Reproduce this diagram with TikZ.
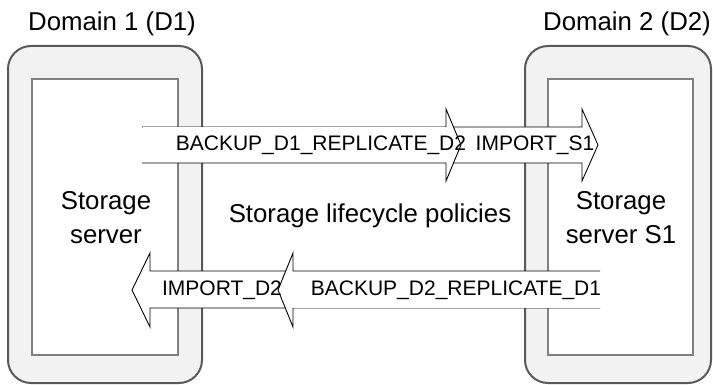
\documentclass[tikz,border=0pt]{standalone}
\usepackage{fontspec}
\setmainfont{Liberation Sans}
\begin{document}
\begin{tikzpicture}[x=1pt,y=-1pt,
  domainbox/.style={draw=black!65,line width=2pt,fill=black!5,rounded corners=23pt},
  serverbox/.style={draw=black!50,line width=2pt,fill=white},
  bigarrow/.style={draw=black,line width=0.9pt,fill=white,line join=miter},
  bigtext/.style={font=\fontsize{25.8}{34}\selectfont,align=center,inner sep=0pt},
  arrowtext/.style={font=\fontsize{21}{24}\selectfont,inner sep=0pt}]
\useasboundingbox (0,0) rectangle (713,385);
% domains
\draw[domainbox] (8,46) rectangle (202,383);
\draw[domainbox] (525,46) rectangle (711,383);
% servers
\draw[serverbox] (32,79) rectangle (178,355);
\draw[serverbox] (548,79) rectangle (693,355);
% top arrows (IMPORT_S1 first, then BACKUP on top)
\draw[bigarrow] (446,127) -- (582,127) -- (582,109) -- (598,145) -- (582,181) -- (582,163) -- (446,163) -- cycle;
\draw[bigarrow] (142,127) -- (446,127) -- (446,109) -- (461,145) -- (446,181) -- (446,163) -- (142,163);
\fill[white] (143,127.5) rectangle (446,162.5);
% bottom arrows (IMPORT_D2 first, then BACKUP on top)
\draw[bigarrow] (293,271) -- (150,271) -- (150,253) -- (132,290) -- (150,327) -- (150,308) -- (293,308) -- cycle;
\draw[bigarrow] (600,271) -- (293,271) -- (293,253) -- (278,290) -- (293,327) -- (293,308) -- (600,308);
\fill[white] (293,271.5) rectangle (599.5,307.5);
% texts
\node[bigtext] (d1) at (112,24) {Domain 1 (D1)};
\node[bigtext] (d2) at (627,24) {Domain 2 (D2)};
\node[bigtext] (s1) at (106,218) {Storage\\server};
\node[bigtext] (s2) at (621,218) {Storage\\server S1};
\node[bigtext] (slp) at (370,216) {Storage lifecycle policies};
\node[arrowtext] (a1) at (321,145) {BACKUP\_D1\_REPLICATE\_D2};
\node[arrowtext] (a2) at (535,145) {IMPORT\_S1};
\node[arrowtext] (a3) at (222,290) {IMPORT\_D2};
\node[arrowtext] (a4) at (456,290) {BACKUP\_D2\_REPLICATE\_D1};
\end{tikzpicture}
\end{document}
